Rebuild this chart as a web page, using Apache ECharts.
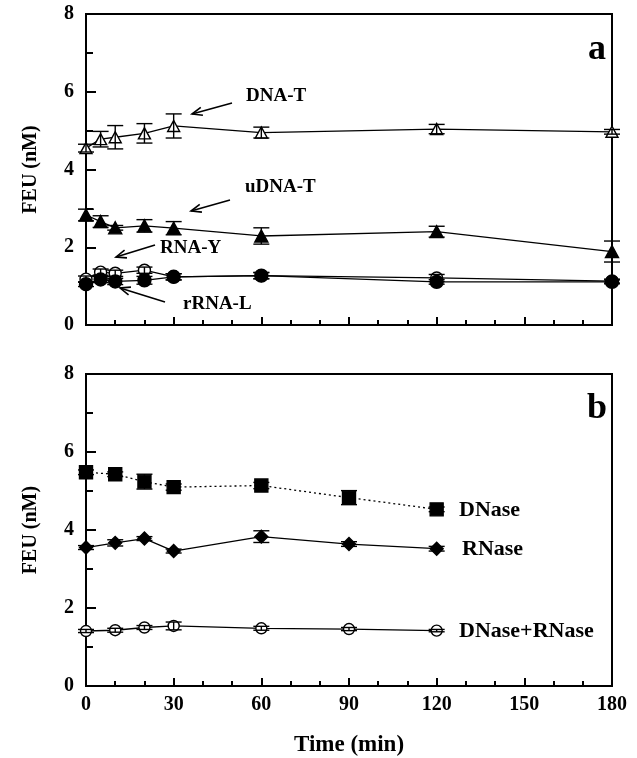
<!DOCTYPE html>
<html><head><meta charset="utf-8">
<script src="https://cdn.jsdelivr.net/npm/echarts@6/dist/echarts.min.js"></script>
<style>html,body{margin:0;padding:0;background:#fff}#c{width:637px;height:758px}</style>
</head><body><div id="c"></div>
<script>
// ---------- DATA ----------
const yTicks = [0, 2, 4, 6, 8];
const xTicks = [0, 30, 60, 90, 120, 150, 180];

// Panel a
const timeA = [0, 5, 10, 20, 30, 60, 120, 180];
const dnaT      = [4.55, 4.78, 4.83, 4.93, 5.12, 4.95, 5.04, 4.97];
const dnaTErr   = [0.10, 0.20, 0.30, 0.25, 0.31, 0.14, 0.12, 0.06];
const udnaT     = [2.83, 2.66, 2.50, 2.55, 2.49, 2.29, 2.40, 1.89];
const udnaTErr  = [0.15, 0.15, 0.06, 0.16, 0.17, 0.21, 0.14, 0.27];
const rnaY      = [1.18, 1.36, 1.33, 1.41, 1.24, 1.27, 1.21, 1.13];
const rnaYErr   = [0.08, 0.08, 0.08, 0.08, 0.08, 0.08, 0.09, 0.05];
const rrnaL     = [1.05, 1.17, 1.12, 1.15, 1.24, 1.27, 1.11, 1.11];
const rrnaLErr  = [0.06, 0.08, 0.08, 0.10, 0.08, 0.08, 0.06, 0.05];

// Panel b
const timeB = [0, 10, 20, 30, 60, 90, 120];
const dnase        = [5.48, 5.43, 5.24, 5.10, 5.14, 4.83, 4.53];
const dnaseErr     = [0.06, 0.06, 0.19, 0.08, 0.08, 0.18, 0.06];
const rnase        = [3.55, 3.67, 3.78, 3.46, 3.83, 3.64, 3.52];
const rnaseErr     = [0.05, 0.08, 0.05, 0.05, 0.15, 0.06, 0.06];
const dnaseRnase   = [1.41, 1.43, 1.50, 1.54, 1.48, 1.46, 1.42];
const dnaseRnaseErr= [0.04, 0.05, 0.05, 0.10, 0.05, 0.04, 0.03];

// ---------- CHART ----------
const FONT = '"Liberation Serif", "Times New Roman", serif';
const pairs = (t, v) => t.map((x, i) => [x, v[i]]);
const errs = (t, v, e) => t.map((x, i) => [x, v[i] - e[i], v[i] + e[i]]);

function errSeries(t, v, e, idx) {
  return {
    type: 'custom', xAxisIndex: idx, yAxisIndex: idx, z: 5, clip: false,
    data: errs(t, v, e),
    renderItem: function (params, api) {
      const x = api.value(0);
      const lo = api.coord([x, api.value(1)]);
      const hi = api.coord([x, api.value(2)]);
      const w = 8;
      const st = { stroke: '#000', lineWidth: 1.4 };
      return { type: 'group', children: [
        { type: 'line', shape: { x1: lo[0], y1: lo[1], x2: hi[0], y2: hi[1] }, style: st },
        { type: 'line', shape: { x1: lo[0] - w, y1: lo[1], x2: lo[0] + w, y2: lo[1] }, style: st },
        { type: 'line', shape: { x1: hi[0] - w, y1: hi[1], x2: hi[0] + w, y2: hi[1] }, style: st }
      ]};
    }
  };
}
function lineSeries(name, t, v, idx, symbol, size, filled, dotted) {
  return {
    name: name, type: 'line', xAxisIndex: idx, yAxisIndex: idx, clip: false, z: 3,
    data: pairs(t, v), symbol: symbol, symbolSize: size, showSymbol: true,
    lineStyle: { color: '#000', width: 1.3, type: dotted ? [2, 3] : 'solid' },
    itemStyle: { color: filled ? '#000' : '#fff', borderColor: '#000', borderWidth: 1.4, opacity: 1 },
    emphasis: { disabled: true }, animation: false
  };
}
function xAxis(idx, showLabels) {
  return {
    type: 'value', gridIndex: idx, min: 0, max: 180, interval: 30,
    axisLine: { lineStyle: { color: '#000', width: 2 } },
    axisTick: { inside: true, length: 8, lineStyle: { color: '#000', width: 2 } },
    minorTick: { show: true, splitNumber: 3, length: 5, lineStyle: { color: '#000', width: 2 } },
    splitLine: { show: false },
    axisLabel: { show: showLabels, color: '#000', fontFamily: FONT, fontWeight: 'bold', fontSize: 20, margin: 9 },
    name: showLabels ? 'Time (min)' : '', nameLocation: 'middle', nameGap: 48,
    nameTextStyle: { color: '#000', fontFamily: FONT, fontWeight: 'bold', fontSize: 23 }
  };
}
function yAxis(idx) {
  return {
    type: 'value', gridIndex: idx, min: 0, max: 8, interval: 2,
    axisLine: { show: true, lineStyle: { color: '#000', width: 2 } },
    axisTick: { show: true, inside: true, length: 10, lineStyle: { color: '#000', width: 2 } },
    minorTick: { show: true, splitNumber: 2, length: 7, lineStyle: { color: '#000', width: 2 } },
    splitLine: { show: false },
    axisLabel: { color: '#000', fontFamily: FONT, fontWeight: 'bold', fontSize: 20, margin: 12,
      formatter: v => yTicks.includes(v) ? String(v) : '' },
    name: 'FEU (nM)', nameLocation: 'middle', nameGap: 45,
    nameTextStyle: { color: '#000', fontFamily: FONT, fontWeight: 'bold', fontSize: 20 }
  };
}

const txt = (x, y, s, size, align) => ({
  type: 'text', x: x, y: y,
  style: { text: s, fill: '#000', font: 'bold ' + size + 'px ' + FONT, textAlign: align || 'left', textVerticalAlign: 'middle' }
});
function arrow(x1, y1, x2, y2) {
  const a = Math.atan2(y1 - y2, x1 - x2), L = 11, s = 0.38;
  return { type: 'group', children: [
    { type: 'line', shape: { x1: x1, y1: y1, x2: x2, y2: y2 }, style: { stroke: '#000', lineWidth: 1.6 } },
    { type: 'polyline', shape: { points: [
      [x2 + L * Math.cos(a + s), y2 + L * Math.sin(a + s)], [x2, y2],
      [x2 + L * Math.cos(a - s), y2 + L * Math.sin(a - s)]] },
      style: { stroke: '#000', lineWidth: 1.6, fill: null } }
  ]};
}

const chart = echarts.init(document.getElementById('c'), null, { renderer: 'canvas' });
chart.setOption({
  animation: false,
  backgroundColor: '#fff',
  grid: [
    { left: 86, right: 25, top: 14, height: 311, show: true, borderColor: '#000', borderWidth: 2, backgroundColor: 'transparent' },
    { left: 86, right: 25, top: 374, height: 312, show: true, borderColor: '#000', borderWidth: 2, backgroundColor: 'transparent' }
  ],
  xAxis: [xAxis(0, false), xAxis(1, true)],
  yAxis: [yAxis(0), yAxis(1)],
  series: [
    lineSeries('DNA-T', timeA, dnaT, 0, 'triangle', [12, 11], false),
    errSeries(timeA, dnaT, dnaTErr, 0),
    lineSeries('uDNA-T', timeA, udnaT, 0, 'triangle', [13, 12], true),
    errSeries(timeA, udnaT, udnaTErr, 0),
    lineSeries('RNA-Y', timeA, rnaY, 0, 'circle', 12, false),
    errSeries(timeA, rnaY, rnaYErr, 0),
    lineSeries('rRNA-L', timeA, rrnaL, 0, 'circle', 13, true),
    errSeries(timeA, rrnaL, rrnaLErr, 0),
    lineSeries('DNase', timeB, dnase, 1, 'rect', 13, true, true),
    errSeries(timeB, dnase, dnaseErr, 1),
    lineSeries('RNase', timeB, rnase, 1, 'diamond', [13, 13], true),
    errSeries(timeB, rnase, rnaseErr, 1),
    lineSeries('DNase+RNase', timeB, dnaseRnase, 1, 'circle', 11, false),
    errSeries(timeB, dnaseRnase, dnaseRnaseErr, 1)
  ],
  graphic: [
    txt(597, 50, 'a', 36, 'center'),
    txt(597, 409, 'b', 36, 'center'),
    txt(246, 96, 'DNA-T', 19),
    arrow(232, 103, 192, 114),
    txt(245, 187, 'uDNA-T', 19),
    arrow(230, 200, 191, 211),
    txt(160, 248, 'RNA-Y', 19),
    arrow(155, 245, 116, 257),
    txt(183, 304, 'rRNA-L', 19),
    arrow(165, 302, 120, 288),
    txt(459, 510, 'DNase', 22),
    txt(462, 549, 'RNase', 22),
    txt(459, 631, 'DNase+RNase', 22)
  ]
});
</script></body></html>
